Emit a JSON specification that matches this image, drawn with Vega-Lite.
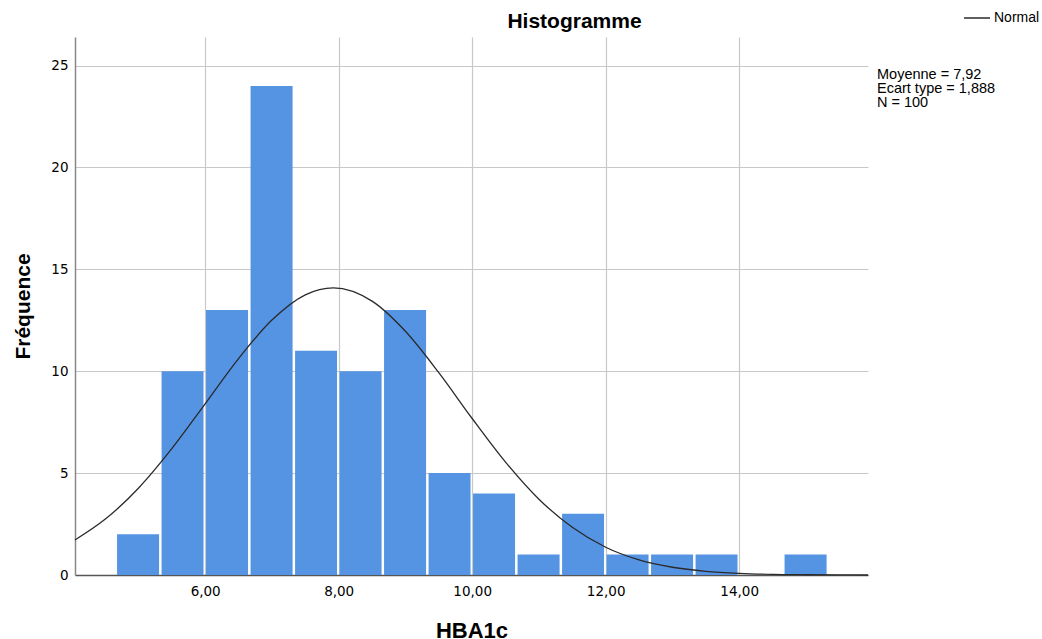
{
  "$schema": "https://vega.github.io/schema/vega-lite/v6.json",
  "width": 793,
  "height": 538,
  "autosize": "none",
  "padding": {"left": 75, "top": 37, "right": 174, "bottom": 64},
  "background": "white",
  "title": {
    "text": "Histogramme",
    "font": "Liberation Sans",
    "fontSize": 21,
    "fontWeight": "bold",
    "color": "#000000",
    "anchor": "middle",
    "frame": "group",
    "dx": 103,
    "offset": -45,
    "baseline": "alphabetic"
  },
  "datasets": {
    "hist": [
      {"bin_start": 4.680, "bin_end": 5.347, "count": 2},
      {"bin_start": 5.347, "bin_end": 6.013, "count": 10},
      {"bin_start": 6.013, "bin_end": 6.680, "count": 13},
      {"bin_start": 6.680, "bin_end": 7.347, "count": 24},
      {"bin_start": 7.347, "bin_end": 8.013, "count": 11},
      {"bin_start": 8.013, "bin_end": 8.680, "count": 10},
      {"bin_start": 8.680, "bin_end": 9.347, "count": 13},
      {"bin_start": 9.347, "bin_end": 10.013, "count": 5},
      {"bin_start": 10.013, "bin_end": 10.680, "count": 4},
      {"bin_start": 10.680, "bin_end": 11.347, "count": 1},
      {"bin_start": 11.347, "bin_end": 12.013, "count": 3},
      {"bin_start": 12.013, "bin_end": 12.680, "count": 1},
      {"bin_start": 12.680, "bin_end": 13.347, "count": 1},
      {"bin_start": 13.347, "bin_end": 14.013, "count": 1},
      {"bin_start": 14.013, "bin_end": 14.680, "count": 0},
      {"bin_start": 14.680, "bin_end": 15.347, "count": 1}
    ],
    "curve": [
      {"x": 4.05, "y": 1.72, "series": "Normal"},
      {"x": 4.5, "y": 2.73, "series": "Normal"},
      {"x": 5.0, "y": 4.26, "series": "Normal"},
      {"x": 5.5, "y": 6.20, "series": "Normal"},
      {"x": 6.0, "y": 8.40, "series": "Normal"},
      {"x": 6.5, "y": 10.62, "series": "Normal"},
      {"x": 7.0, "y": 12.51, "series": "Normal"},
      {"x": 7.5, "y": 13.75, "series": "Normal"},
      {"x": 7.92, "y": 14.09, "series": "Normal"},
      {"x": 8.5, "y": 13.44, "series": "Normal"},
      {"x": 9.0, "y": 11.96, "series": "Normal"},
      {"x": 9.5, "y": 9.93, "series": "Normal"},
      {"x": 10.0, "y": 7.68, "series": "Normal"},
      {"x": 10.5, "y": 5.54, "series": "Normal"},
      {"x": 11.0, "y": 3.72, "series": "Normal"},
      {"x": 11.5, "y": 2.34, "series": "Normal"},
      {"x": 12.0, "y": 1.36, "series": "Normal"},
      {"x": 12.5, "y": 0.74, "series": "Normal"},
      {"x": 13.0, "y": 0.38, "series": "Normal"},
      {"x": 13.5, "y": 0.18, "series": "Normal"},
      {"x": 14.0, "y": 0.08, "series": "Normal"},
      {"x": 14.5, "y": 0.03, "series": "Normal"},
      {"x": 15.0, "y": 0.013, "series": "Normal"},
      {"x": 15.5, "y": 0.004, "series": "Normal"},
      {"x": 15.93, "y": 0.001, "series": "Normal"}
    ],
    "stats": [
      {"label": "Moyenne = 7,92\nEcart type = 1,888\nN = 100"}
    ]
  },
  "layer": [
    {
      "data": {"name": "hist"},
      "mark": {"type": "rect", "fill": "#5594e3", "x2Offset": -2.5},
      "encoding": {
        "x": {
          "field": "bin_start",
          "type": "quantitative",
          "scale": {"domain": [4.05, 15.93], "nice": false, "zero": false},
          "axis": {
            "values": [6, 8, 10, 12, 14],
            "labelExpr": "replace(format(datum.value, '.2f'), '.', ',')",
            "title": "HBA1c",
            "titleFont": "Liberation Sans",
            "titleFontSize": 22,
            "titleFontWeight": "bold",
            "titleColor": "#000000",
            "titleBaseline": "alphabetic",
            "titleY": 62,
            "labelFont": "DejaVu Sans",
            "labelFontSize": 13.5,
            "labelColor": "#000000",
            "labelPadding": 9,
            "ticks": false,
            "domainColor": "#555555",
            "domainWidth": 1.5,
            "grid": true,
            "gridColor": "#c8c8c8",
            "gridWidth": 1.2
          }
        },
        "x2": {"field": "bin_end"},
        "y": {
          "field": "count",
          "type": "quantitative",
          "scale": {"domain": [0, 26.4], "nice": false},
          "axis": {
            "values": [0, 5, 10, 15, 20, 25],
            "title": "Fréquence",
            "titleFont": "Liberation Sans",
            "titleFontSize": 21,
            "titleFontWeight": "bold",
            "titleColor": "#000000",
            "titleAngle": -90,
            "titleBaseline": "alphabetic",
            "titleAlign": "center",
            "titleX": -46,
            "titleY": 269,
            "labelFont": "DejaVu Sans",
            "labelFontSize": 13.5,
            "labelColor": "#000000",
            "labelPadding": 7,
            "ticks": false,
            "domainColor": "#888888",
            "domainWidth": 1.5,
            "grid": true,
            "gridColor": "#c8c8c8",
            "gridWidth": 1.2
          }
        },
        "y2": {"datum": 0}
      }
    },
    {
      "data": {"name": "curve"},
      "mark": {"type": "line", "interpolate": "monotone", "strokeWidth": 1.3},
      "encoding": {
        "x": {"field": "x", "type": "quantitative"},
        "y": {"field": "y", "type": "quantitative"},
        "stroke": {
          "field": "series",
          "type": "nominal",
          "scale": {"domain": ["Normal"], "range": ["#2a2a2a"]},
          "legend": {
            "orient": "none",
            "legendX": 888,
            "legendY": -33,
            "title": null,
            "symbolType": "stroke",
            "symbolSize": 676,
            "symbolStrokeWidth": 1.5,
            "labelFont": "Liberation Sans",
            "labelFontSize": 14,
            "labelColor": "#000000",
            "labelOffset": 3,
            "padding": 0
          }
        }
      }
    },
    {
      "data": {"name": "stats"},
      "mark": {
        "type": "text",
        "align": "left",
        "baseline": "alphabetic",
        "lineBreak": "\n",
        "font": "Liberation Sans",
        "fontSize": 14.5,
        "lineHeight": 14,
        "color": "#000000",
        "dx": 9
      },
      "encoding": {
        "x": {"datum": 15.93, "type": "quantitative"},
        "y": {"datum": 24.35, "type": "quantitative"},
        "text": {"field": "label", "type": "nominal"}
      }
    }
  ],
  "config": {
    "view": {"stroke": null}
  }
}
